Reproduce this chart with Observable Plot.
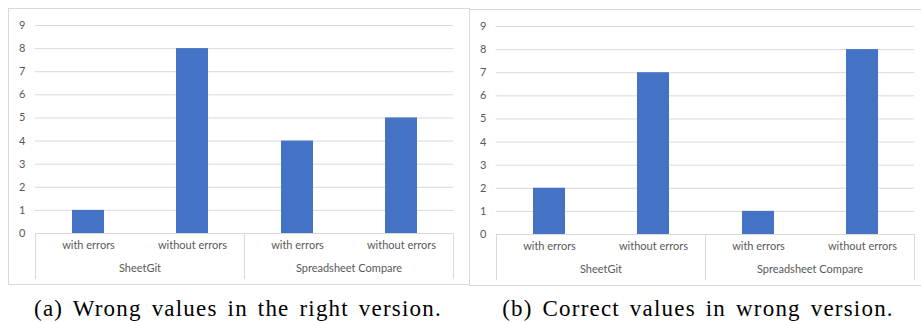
<!DOCTYPE html>
<html>
<head>
<meta charset="utf-8">
<script src="https://cdn.jsdelivr.net/npm/d3@7"></script>
<script src="https://cdn.jsdelivr.net/npm/@observablehq/plot@0.6"></script>
<style>
  html, body { margin: 0; padding: 0; background: #fff; width: 921px; height: 322px; overflow: hidden; }
  .panel { position: absolute; border: 1px solid #d9d9d9; background: #fff; line-height: 0; width: 460px; height: 275px; }
  .panel svg { display: block; max-width: none; }
  .caption { position: absolute; font-family: "Liberation Serif", "DejaVu Serif", serif; font-size: 23px; letter-spacing: 1.2px; word-spacing: 3px; color: #000; white-space: nowrap; transform: translateX(-50%); line-height: 1; }
</style>
</head>
<body>
<div id="pa" class="panel" style="left:8px; top:8px;"></div>
<div id="pb" class="panel" style="left:469px; top:9px;"></div>
<div class="caption" style="left:238px; top:297px;">(a) Wrong values in the right version.</div>
<div class="caption" style="left:698px; top:297px;">(b) Correct values in wrong version.</div>
<script>
const tools = ["SheetGit", "Spreadsheet Compare"];
const conditions = ["with errors", "without errors"];
const wrongValuesRightVersion = [1, 8, 4, 5];
const correctValuesWrongVersion = [2, 7, 1, 8];
const yTicks = [0, 1, 2, 3, 4, 5, 6, 7, 8, 9];

function rows(values) {
  const out = [];
  tools.forEach((t, i) => conditions.forEach((c, j) => out.push({tool: t, cond: c, value: values[i * conditions.length + j]})));
  return out;
}

function chart(values) {
  const data = rows(values);
  const W = 460, H = 275, mT = 16, mB = 51, mL = 25, mR = 16;
  const plotH = H - mT - mB;
  return Plot.plot({
    width: W, height: H,
    marginTop: mT, marginBottom: mB, marginLeft: mL, marginRight: mR,
    style: {fontFamily: "Lato, 'Open Sans', sans-serif", fontSize: "11px", color: "#595959", background: "#fff"},
    fx: {domain: tools, padding: 0, axis: null},
    x: {domain: conditions, paddingInner: 0.695, paddingOuter: 0.3475, axis: null},
    y: {domain: [0, 9], ticks: yTicks, tickSize: 0, tickPadding: 10, label: null},
    marks: [
      Plot.ruleY(yTicks, {stroke: "#d9d9d9", strokeWidth: 1}),
      Plot.frame({anchor: "left", insetTop: plotH, insetBottom: -45, stroke: "#d9d9d9"}),
      Plot.frame({anchor: "right", insetTop: plotH, insetBottom: -45, stroke: "#d9d9d9"}),
      Plot.barY(data, {fx: "tool", x: "cond", y: "value", fill: "#4472c4"}),
      Plot.text(data, {fx: "tool", x: "cond", text: "cond", frameAnchor: "bottom", dy: 15, fill: "#595959"}),
      Plot.text(tools, {fx: d => d, text: d => d, frameAnchor: "bottom", dy: 38, fill: "#595959"})
    ]
  });
}

document.getElementById("pa").appendChild(chart(wrongValuesRightVersion));
document.getElementById("pb").appendChild(chart(correctValuesWrongVersion));
</script>
</body>
</html>
